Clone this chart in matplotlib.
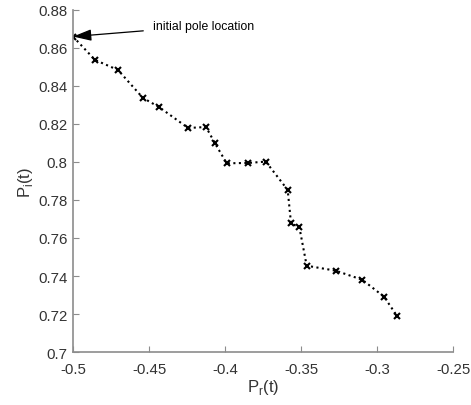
import matplotlib.pyplot as plt

plt.rcParams['font.family'] = ['Liberation Sans', 'DejaVu Sans']

pr = [-0.5, -0.4855, -0.4704, -0.454, -0.4434, -0.4243, -0.4125, -0.4066,
      -0.3989, -0.3847, -0.3732, -0.3588, -0.3566, -0.3511, -0.3463,
      -0.3272, -0.3097, -0.2954, -0.2870]
pi = [0.866, 0.8537, 0.8484, 0.8337, 0.8289, 0.8179, 0.8184, 0.8098,
      0.7993, 0.7995, 0.8002, 0.7853, 0.7677, 0.7656, 0.7454,
      0.7428, 0.738, 0.7291, 0.7191]

xticks = [-0.5, -0.45, -0.4, -0.35, -0.3, -0.25]
yticks = [0.7, 0.72, 0.74, 0.76, 0.78, 0.8, 0.82, 0.84, 0.86, 0.88]

fig = plt.figure(figsize=(4.71, 4.06), dpi=100)
ax = fig.add_axes([0.155, 0.1305, 0.807, 0.8425])

ax.plot(pr, pi, ':', color='black', lw=1.5, marker='x', ms=4.5, mew=1.5)

ax.set_xlim(-0.5, -0.25)
ax.set_ylim(0.7, 0.88)
ax.set_xticks(xticks)
ax.set_xticklabels(['-0.5', '-0.45', '-0.4', '-0.35', '-0.3', '-0.25'])
ax.set_yticks(yticks)
ax.set_yticklabels(['0.7', '0.72', '0.74', '0.76', '0.78', '0.8', '0.82', '0.84', '0.86', '0.88'])

for s in ['top', 'right']:
    ax.spines[s].set_visible(False)
for s in ['left', 'bottom']:
    ax.spines[s].set_color('#8c8c8c')
    ax.spines[s].set_linewidth(1.2)
ax.tick_params(direction='in', length=4, color='#8c8c8c', labelcolor='#333333', labelsize=10.8)
ax.tick_params(axis='x', pad=7)
ax.tick_params(axis='y', pad=4)

ax.set_xlabel('P$_\\mathregular{r}$(t)', fontsize=12, color='#333333', labelpad=1)
ax.set_ylabel('P$_\\mathregular{i}$(t)', fontsize=12, color='#333333', labelpad=2)

ax.annotate('initial pole location', xy=(pr[0], pi[0]), xytext=(-0.4474, 0.8716),
            fontsize=8.8, color='black', va='center',
            arrowprops=dict(arrowstyle='-|>,head_length=0.8,head_width=0.25',
                            color='black', lw=0.9,
                            mutation_scale=14, shrinkA=5, shrinkB=0))

fig.savefig('out.png', dpi=100)
